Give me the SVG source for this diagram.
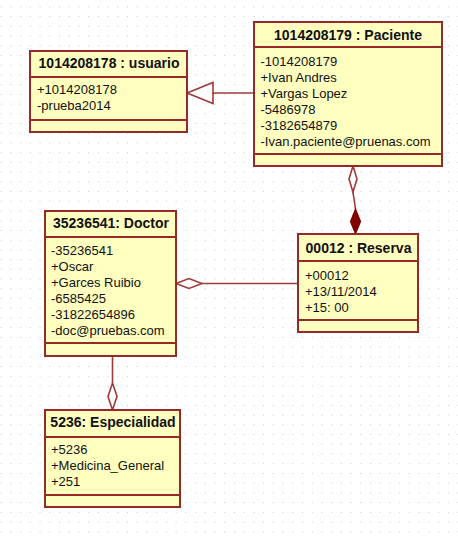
<svg xmlns="http://www.w3.org/2000/svg" width="458" height="541" viewBox="0 0 458 541">
  <defs>
    <pattern id="dots" x="0.7" y="6.4" width="9.72" height="9.72" patternUnits="userSpaceOnUse">
      <rect x="0" y="0" width="1" height="1" fill="#c4c4c4"/>
    </pattern>
    <style>
      .box { fill: #ffffc0; stroke: #962a2a; stroke-width: 2; }
      .sep { stroke: #962a2a; stroke-width: 2; }
      .title { font-family: "Liberation Sans", Arial, sans-serif; font-weight: bold; font-size: 14px; fill: #111; text-anchor: middle; }
      .attr { font-family: "Liberation Sans", Arial, sans-serif; font-size: 13px; fill: #111; }
      .conn { stroke: #a03a3a; stroke-width: 1.6; fill: none; }
      .hollow { stroke: #a03a3a; stroke-width: 1.6; fill: #ffffff; }
      .solid { stroke: #800000; stroke-width: 1.2; fill: #800000; }
    </style>
  </defs>

  <!-- canvas with dotted grid -->
  <rect width="458" height="541" fill="#ffffff"/>
  <rect width="458" height="541" fill="url(#dots)"/>

  <!-- connectors -->
  <g id="connectors">
    <!-- Paciente generalizes to usuario -->
    <line class="conn" x1="213" y1="93" x2="254" y2="93"/>
    <polygon class="hollow" points="187,93 213,82.5 213,103.5"/>
    <!-- Paciente / Reserva: aggregation at Paciente, composition at Reserva -->
    <line class="conn" x1="353" y1="192" x2="355.5" y2="209"/>
    <polygon class="hollow" points="353,166 357,179 353,192 349,179"/>
    <polygon class="solid" points="355.5,209 360.5,221.5 355.5,234 350.5,221.5"/>
    <!-- Doctor / Reserva aggregation -->
    <line class="conn" x1="202" y1="283.5" x2="298" y2="283.5"/>
    <polygon class="hollow" points="176,283.5 189,278.5 202,283.5 189,288.5"/>
    <!-- Doctor / Especialidad aggregation -->
    <line class="conn" x1="112.5" y1="356" x2="112.5" y2="383"/>
    <polygon class="hollow" points="112.5,383 117,396.5 112.5,410 108,396.5"/>
  </g>

  <!-- usuario -->
  <g id="usuario">
    <rect class="box" x="30" y="51" width="157" height="81"/>
    <line class="sep" x1="30" y1="77" x2="187" y2="77"/>
    <line class="sep" x1="30" y1="120" x2="187" y2="120"/>
    <text class="title" x="109" y="68">1014208178 : usuario</text>
    <text class="attr" x="37" y="94">+1014208178</text>
    <text class="attr" x="37" y="110">-prueba2014</text>
  </g>

  <!-- Paciente -->
  <g id="paciente">
    <rect class="box" x="254" y="22" width="188" height="144"/>
    <line class="sep" x1="254" y1="47" x2="442" y2="47"/>
    <line class="sep" x1="254" y1="154" x2="442" y2="154"/>
    <text class="title" x="348" y="39.5">1014208179 : Paciente</text>
    <text class="attr" x="260.5" y="65.7">-1014208179</text>
    <text class="attr" x="260.5" y="81.7">+Ivan Andres</text>
    <text class="attr" x="260.5" y="97.7">+Vargas Lopez</text>
    <text class="attr" x="260.5" y="113.7">-5486978</text>
    <text class="attr" x="260.5" y="129.7">-3182654879</text>
    <text class="attr" x="260.5" y="145.7">-Ivan.paciente@pruenas.com</text>
  </g>

  <!-- Doctor -->
  <g id="doctor">
    <rect class="box" x="45" y="211" width="131" height="145"/>
    <line class="sep" x1="45" y1="237" x2="176" y2="237"/>
    <line class="sep" x1="45" y1="343" x2="176" y2="343"/>
    <text class="title" x="111" y="228">35236541: Doctor</text>
    <text class="attr" x="51" y="255">-35236541</text>
    <text class="attr" x="51" y="271">+Oscar</text>
    <text class="attr" x="51" y="287">+Garces Ruibio</text>
    <text class="attr" x="51" y="303">-6585425</text>
    <text class="attr" x="51" y="319">-31822654896</text>
    <text class="attr" x="51" y="335">-doc@pruebas.com</text>
  </g>

  <!-- Reserva -->
  <g id="reserva">
    <rect class="box" x="298" y="234" width="120" height="98"/>
    <line class="sep" x1="298" y1="261" x2="418" y2="261"/>
    <line class="sep" x1="298" y1="320" x2="418" y2="320"/>
    <text class="title" x="358.5" y="253">00012 : Reserva</text>
    <text class="attr" x="305" y="280">+00012</text>
    <text class="attr" x="305" y="296">+13/11/2014</text>
    <text class="attr" x="305" y="312">+15: 00</text>
  </g>

  <!-- Especialidad -->
  <g id="especialidad">
    <rect class="box" x="45" y="410" width="135" height="97"/>
    <line class="sep" x1="45" y1="437" x2="180" y2="437"/>
    <line class="sep" x1="45" y1="495" x2="180" y2="495"/>
    <text class="title" x="113" y="427">5236: Especialidad</text>
    <text class="attr" x="51" y="454">+5236</text>
    <text class="attr" x="51" y="470">+Medicina_General</text>
    <text class="attr" x="51" y="486">+251</text>
  </g>
</svg>
